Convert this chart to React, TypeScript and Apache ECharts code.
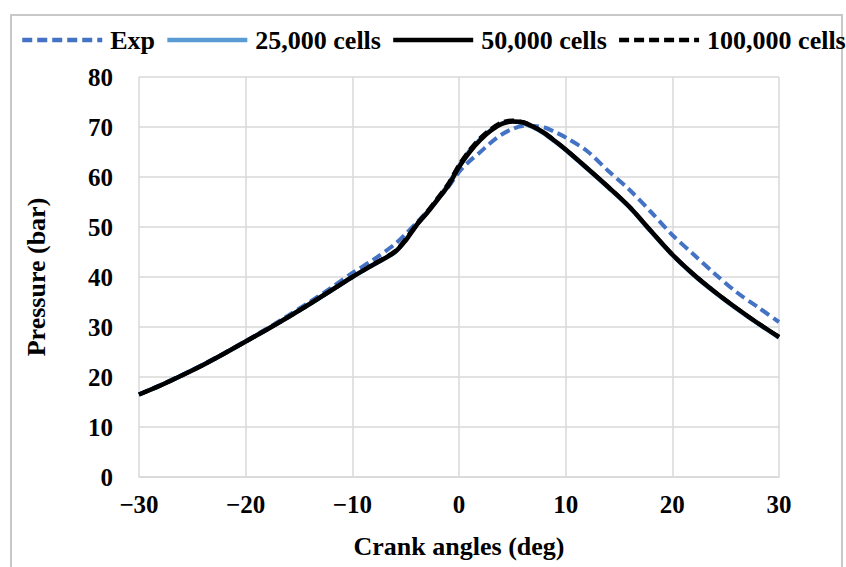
import React, { useEffect, useRef } from "react";
import * as echarts from "echarts";

const crankAngles = [-30, -28, -26, -24, -22, -20, -18, -16, -14, -12, -10, -8, -6, -5, -4, -3, -2, -1, 0, 1, 2, 3, 4, 5, 6, 7, 8, 9, 10, 12, 14, 16, 18, 20, 22, 24, 26, 28, 30];

const expValues = [16.5, 18.4, 20.4, 22.5, 24.8, 27.2, 29.7, 32.3, 35.0, 37.8, 40.8, 43.5, 46.6, 48.6, 50.8, 53.1, 55.5, 58.0, 61.0, 63.2, 65.0, 66.9, 68.5, 69.6, 70.2, 70.2, 69.9, 69.0, 67.9, 65.2, 61.2, 57.4, 53.0, 48.4, 44.5, 40.6, 37.0, 34.0, 31.0];

const cells25k = [16.5, 18.3, 20.3, 22.4, 24.7, 27.1, 29.5, 32.0, 34.6, 37.3, 40.0, 42.5, 45.0, 47.4, 50.4, 52.9, 55.6, 58.5, 62.2, 65.2, 67.6, 69.4, 70.7, 71.1, 70.8, 69.9, 68.7, 67.1, 65.4, 61.7, 57.9, 53.9, 49.1, 44.4, 40.4, 36.9, 33.7, 30.7, 27.9];

const cells50k = [16.5, 18.3, 20.3, 22.4, 24.7, 27.1, 29.5, 32.0, 34.6, 37.3, 40.0, 42.5, 45.0, 47.3, 50.3, 52.8, 55.5, 58.3, 62.0, 65.0, 67.4, 69.3, 70.6, 71.1, 70.9, 70.0, 68.8, 67.2, 65.5, 61.8, 58.0, 54.0, 49.2, 44.5, 40.5, 37.0, 33.8, 30.8, 28.0];

const cells100k = [16.5, 18.3, 20.3, 22.4, 24.7, 27.1, 29.5, 32.0, 34.6, 37.3, 40.0, 42.6, 45.2, 47.6, 50.5, 53.0, 55.8, 58.7, 62.4, 65.4, 67.8, 69.6, 70.9, 71.3, 71.0, 70.1, 68.8, 67.2, 65.5, 61.8, 58.0, 54.0, 49.2, 44.5, 40.5, 37.0, 33.8, 30.8, 28.0];

const seriesNames = ["Exp", "25,000 cells", "50,000 cells", "100,000 cells"];

const xTicks = { min: -30, max: 30, interval: 10 };
const yTicks = { min: 0, max: 80, interval: 10 };

const FONT = "'Liberation Serif', 'Times New Roman', serif";

function pairs(xs: number[], ys: number[]) {
  return xs.map((x, i) => [x, ys[i]]);
}

export default function App() {
  const ref = useRef<HTMLDivElement>(null);
  useEffect(() => {
    if (!ref.current) return;
    const chart = echarts.init(ref.current, null, { renderer: "svg" });
    const textBase = { fontFamily: FONT, fontWeight: "bold" as const, color: "#000" };
    chart.setOption({
      animation: false,
      backgroundColor: "#fff",
      graphic: [
        {
          type: "rect",
          shape: { x: 11, y: 15, width: 831, height: 600 },
          style: { fill: "none", stroke: "#c8c8c8", lineWidth: 2 },
          silent: true,
        },
      ],
      legend: {
        data: seriesNames,
        top: 27,
        left: 20,
        right: 0,
        padding: 0,
        itemWidth: 80,
        itemHeight: 14,
        itemGap: 10,
        itemStyle: { opacity: 0 },
        lineStyle: { width: 4.5 },
        textStyle: { ...textBase, fontSize: 26, padding: [0, 0, 0, 3] },
      },
      grid: { left: 139, right: 67, top: 77, bottom: 90, containLabel: false },
      xAxis: {
        type: "value",
        min: xTicks.min,
        max: xTicks.max,
        interval: xTicks.interval,
        name: "Crank angles (deg)",
        nameLocation: "middle",
        nameGap: 56,
        nameTextStyle: { ...textBase, fontSize: 26 },
        axisLine: { show: true, lineStyle: { color: "#d9d9d9", width: 1.5 } },
        axisTick: { show: false },
        axisLabel: {
          ...textBase,
          fontSize: 25,
          margin: 15,
          formatter: (v: number) => String(v).replace("-", "\u2212"),
        },
        splitLine: { show: true, lineStyle: { color: "#d9d9d9", width: 1.5 } },
      },
      yAxis: {
        type: "value",
        min: yTicks.min,
        max: yTicks.max,
        interval: yTicks.interval,
        name: "Pressure (bar)",
        nameLocation: "middle",
        nameGap: 90,
        nameTextStyle: { ...textBase, fontSize: 26 },
        axisLine: { show: false },
        axisTick: { show: false },
        axisLabel: { ...textBase, fontSize: 25, margin: 26 },
        splitLine: { show: true, lineStyle: { color: "#d9d9d9", width: 1.5 } },
      },
      series: [
        {
          name: seriesNames[0],
          type: "line",
          data: pairs(crankAngles, expValues),
          symbol: "none",
          smooth: 0.3,
          lineStyle: { color: "#4472C4", width: 4, type: [10, 5] },
          itemStyle: { color: "#4472C4" },
          z: 2,
        },
        {
          name: seriesNames[1],
          type: "line",
          data: pairs(crankAngles, cells25k),
          symbol: "none",
          smooth: 0.3,
          lineStyle: { color: "#5B9BD5", width: 4.5 },
          itemStyle: { color: "#5B9BD5" },
          z: 3,
        },
        {
          name: seriesNames[2],
          type: "line",
          data: pairs(crankAngles, cells50k),
          symbol: "none",
          smooth: 0.3,
          lineStyle: { color: "#000", width: 4.5 },
          itemStyle: { color: "#000" },
          z: 4,
        },
        {
          name: seriesNames[3],
          type: "line",
          data: pairs(crankAngles, cells100k),
          symbol: "none",
          smooth: 0.3,
          lineStyle: { color: "#000", width: 4, type: [10, 5] },
          itemStyle: { color: "#000" },
          z: 5,
        },
      ],
    });
    return () => chart.dispose();
  }, []);
  return (
    <div
      ref={ref}
      style={{ position: "absolute", left: 0, top: 0, width: 846, height: 567 }}
    />
  );
}
